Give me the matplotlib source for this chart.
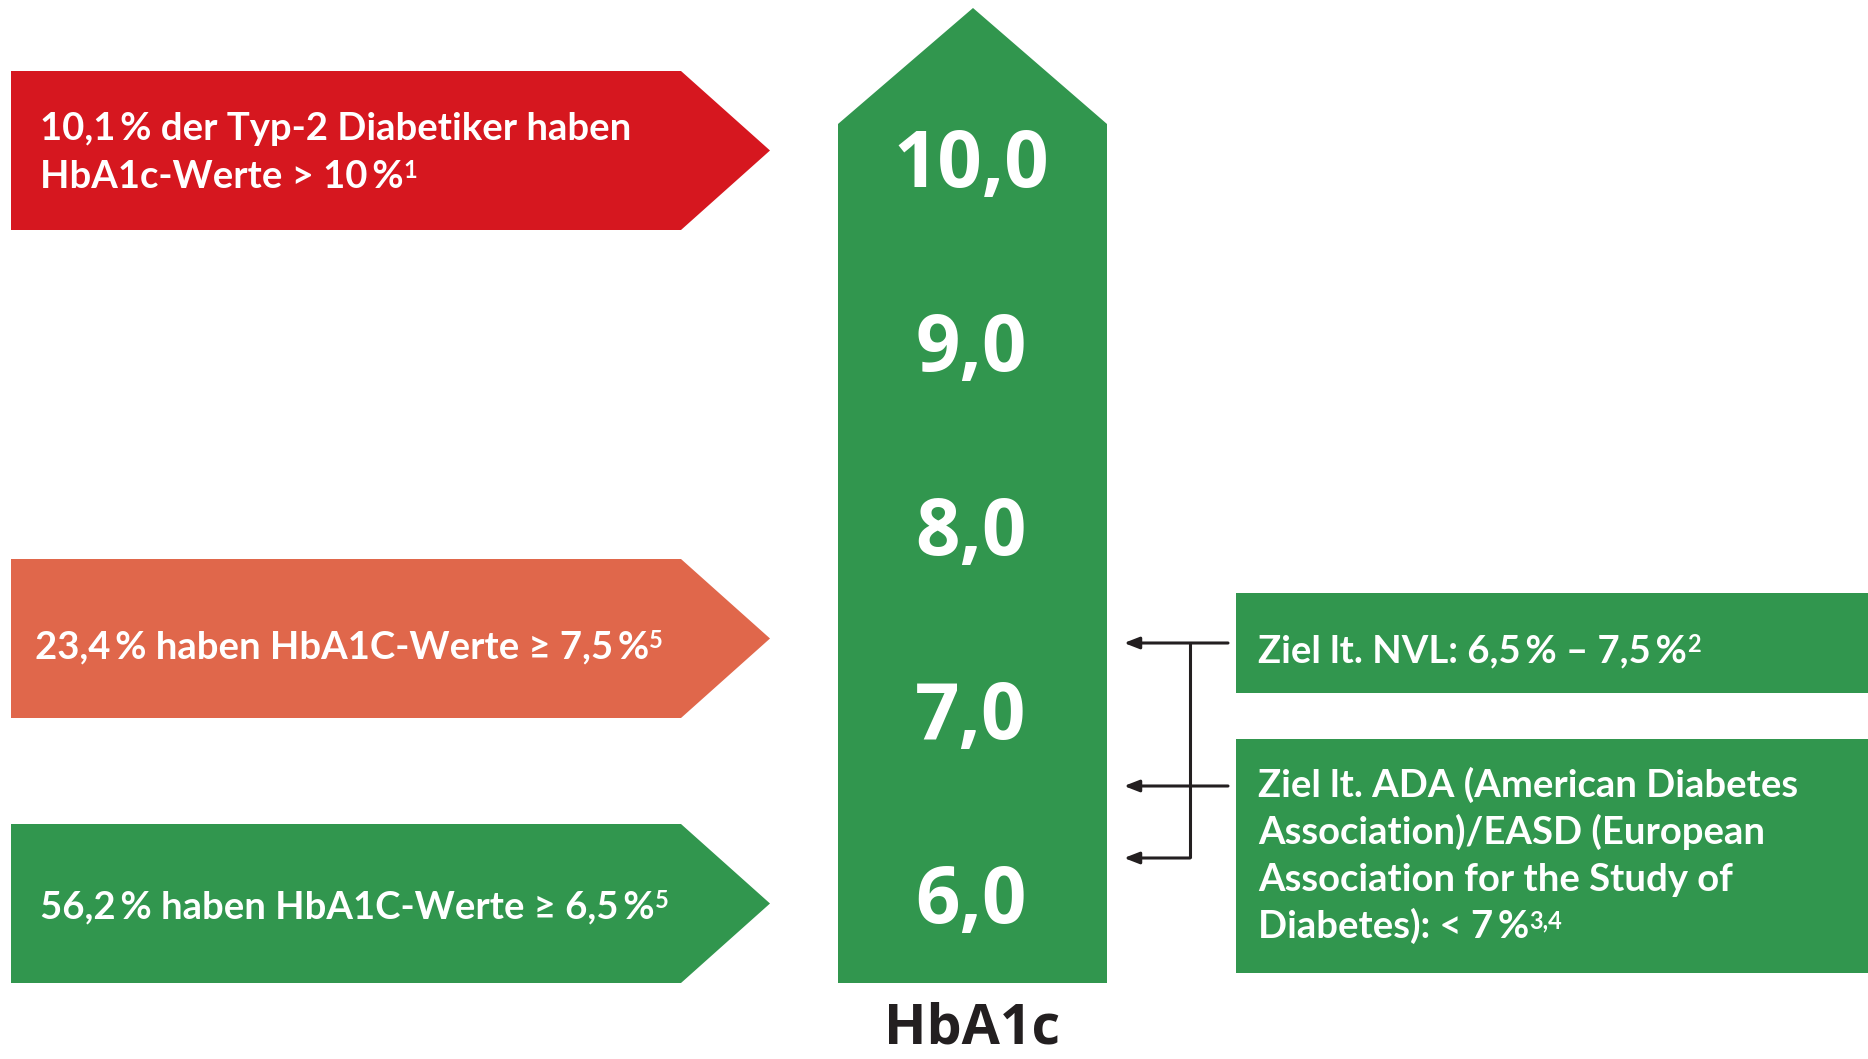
import matplotlib.pyplot as plt
from matplotlib.patches import Polygon, Rectangle

# --- content -------------------------------------------------------------
scale_values = [10, 9, 8, 7, 6]
scale_labels = [f"{v:.1f}".replace(".", ",") for v in scale_values]
axis_label = "HbA1c"

left_lines = [
    ["10,1\u2009% der Typ-2 Diabetiker haben", "HbA1c-Werte > 10\u2009%"],
    ["23,4\u2009% haben HbA1C-Werte \u2265 7,5\u2009%"],
    ["56,2\u2009% haben HbA1C-Werte \u2265 6,5\u2009%"],
]
left_refs = ["1", "5", "5"]
left_colors = ["#d6171f", "#e0674b", "#31964e"]

right_lines = [
    ["Ziel lt. NVL: 6,5\u2009% \u2013 7,5\u2009%"],
    ["Ziel lt. ADA (American Diabetes", "Association)/EASD (European",
     "Association for the Study of", "Diabetes): < 7\u2009%"],
]
right_refs = ["2", "3,4"]

GREEN = "#31964e"
DARK = "#231f20"
W, H = 1868, 1059

fig = plt.figure(figsize=(W / 100, H / 100), dpi=100)
ax = fig.add_axes([0, 0, 1, 1])
ax.set_xlim(0, W)
ax.set_ylim(H, 0)
ax.axis("off")

body_font = ["Lato", "DejaVu Sans"]
num_font = ["Open Sans", "DejaVu Sans"]
renderer = fig.canvas.get_renderer()
BODY_SIZE = 27.5


def text_with_ref(x, y, s, ref, size=BODY_SIZE):
    t = ax.text(x, y, s, color="white", fontsize=size, family=body_font,
                fontweight="bold", va="baseline", ha="left")
    if ref:
        bb = t.get_window_extent(renderer).transformed(ax.transData.inverted())
        ax.text(bb.x1, y - 10, ref, color="white", fontsize=size * 0.62,
                family=body_font, fontweight="bold", va="baseline", ha="left")


# --- left arrows ---------------------------------------------------------
left_boxes = [(71, 230), (559, 718), (824, 983)]
left_baselines = [[140, 188], [658], [918]]
left_x = [40, 35, 40]
for (top, bot), col, lines, bls, lx, ref in zip(left_boxes, left_colors, left_lines,
                                              left_baselines, left_x, left_refs):
    mid = (top + bot) / 2
    ax.add_patch(Polygon([(11, top), (681, top), (770, mid), (681, bot), (11, bot)],
                         closed=True, facecolor=col, edgecolor="none"))
    for i, (ln, bl) in enumerate(zip(lines, bls)):
        text_with_ref(lx, bl, ln, ref if i == len(lines) - 1 else None)

# --- central scale arrow -------------------------------------------------
ax.add_patch(Polygon([(838, 983), (838, 124), (973, 8), (1107, 124), (1107, 983)],
                     closed=True, facecolor=GREEN, edgecolor="none"))
top_base, step = 187, 184
for v, lab in zip(scale_values, scale_labels):
    ax.text(971, top_base + (10 - v) * step, lab, color="white", fontsize=56,
            family=num_font, fontweight="bold", ha="center", va="baseline")
ax.text(972, 1044, axis_label, color=DARK, fontsize=40, family=num_font,
        fontweight="bold", ha="center", va="baseline")

# --- right boxes ---------------------------------------------------------
right_boxes = [(593, 693), (739, 973)]
right_baselines = [[662], [797, 844, 891, 938]]
for (top, bot), lines, bls, ref in zip(right_boxes, right_lines, right_baselines, right_refs):
    ax.add_patch(Rectangle((1236, top), W - 1236, bot - top,
                           facecolor=GREEN, edgecolor="none"))
    for i, (ln, bl) in enumerate(zip(lines, bls)):
        text_with_ref(1258, bl, ln, ref if i == len(lines) - 1 else None)

# --- connector arrows ----------------------------------------------------
arrow_y = [643, 786, 858]
vx = 1190
ax.plot([vx, vx], [arrow_y[0], arrow_y[-1]], color=DARK, lw=2.2, solid_capstyle="butt")
for y, x_start in zip(arrow_y, [1228, 1228, vx]):
    ax.annotate("", xy=(1124, y), xytext=(x_start, y),
                arrowprops=dict(arrowstyle="-|>,head_length=0.9,head_width=0.35",
                                color=DARK, lw=2.2, shrinkA=0, shrinkB=0))

fig.savefig("out.png", dpi=100)
